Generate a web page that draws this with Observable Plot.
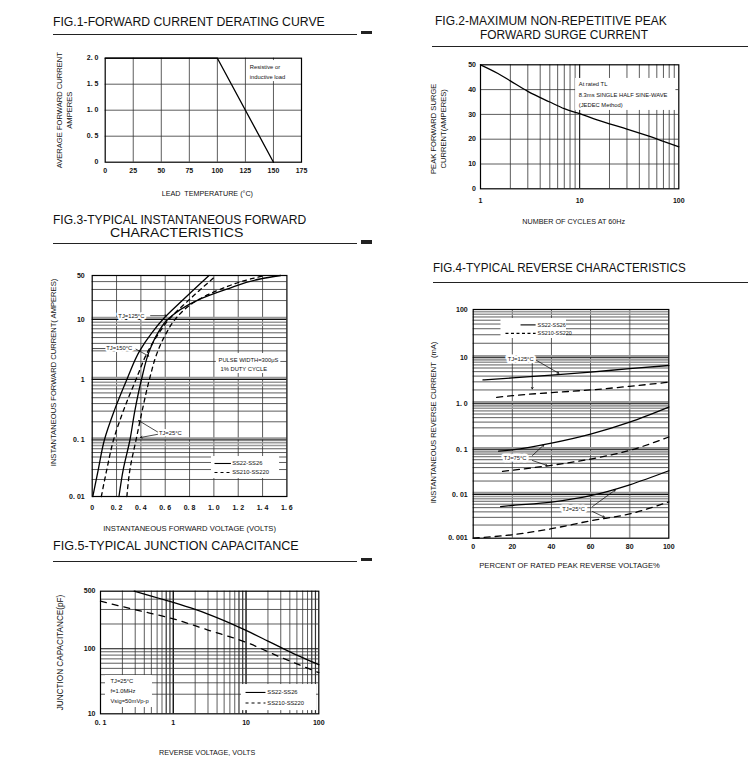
<!DOCTYPE html>
<html><head><meta charset="utf-8">
<script src="https://cdn.jsdelivr.net/npm/d3@7"></script>
<script src="https://cdn.jsdelivr.net/npm/@observablehq/plot@0.6"></script>
<style>
body{margin:0;background:#fff;}
#page{position:relative;width:750px;height:780px;overflow:hidden;background:#fff;font-family:"Liberation Sans",Arial,sans-serif;}
#page > svg{position:absolute;left:0;top:0;}
.title{position:absolute;font-size:12px;line-height:12px;white-space:nowrap;color:#111;transform-origin:0 50%;}
.rule{position:absolute;background:#222;}
</style>
</head><body><div id="page"></div>
<script>
// ---------- DATA ----------
// Fig.1 Forward current derating
const fig1Temp = [0, 100, 150];
const fig1Current = [2.0, 2.0, 0];
const fig1XTicks = [0, 25, 50, 75, 100, 125, 150, 175];
const fig1YTicks = [0, 0.5, 1.0, 1.5, 2.0];
const fig1YLabels = ["0", "0. 5", "1. 0", "1. 5", "2. 0"];

// Fig.2 Surge current
const fig2Cycles = [1, 1.5, 2, 3, 5, 7, 10, 15, 20, 30, 50, 70, 100];
const fig2Surge = [50, 46.5, 43.5, 39.3, 35, 32.3, 30.3, 27.8, 26.2, 24.1, 21.2, 19.1, 16.9];
const fig2XTicks = [1, 10, 100];
const fig2YTicks = [0, 10, 20, 30, 40, 50];

// Fig.3 Forward characteristics (V, A)
const fig3CurrentA = [0.01, 0.03, 0.1, 0.3, 1, 3, 6, 10, 20, 50];
const fig3SolidSteepV = [0.005, 0.05, 0.10, 0.18, 0.285, 0.39, 0.49, 0.58, 0.74, 0.96];
const fig3DashedSteepV = [0.075, 0.12, 0.175, 0.255, 0.36, 0.46, 0.55, 0.63, 0.79, 1.02];
const fig3CurrentB = [0.01, 0.03, 0.1, 0.3, 1, 3, 6, 10, 20, 30, 44, 50];
const fig3SolidFlatV = [0.22, 0.255, 0.31, 0.35, 0.405, 0.47, 0.54, 0.62, 0.86, 1.1, 1.38, 1.55];
const fig3DashedFlatV = [0.285, 0.31, 0.36, 0.41, 0.47, 0.54, 0.61, 0.68, 0.86, 1.05, 1.3, 1.42];
const fig3XTicks = [0, 0.2, 0.4, 0.6, 0.8, 1.0, 1.2, 1.4, 1.6];
const fig3XLabels = ["0", "0. 2", "0. 4", "0. 6", "0. 8", "1. 0", "1. 2", "1. 4", "1. 6"];
const fig3YTicks = [0.01, 0.1, 1, 10, 50];
const fig3YLabels = ["0. 01", "0. 1", "1", "10", "50"];

// Fig.4 Reverse characteristics (% , mA)
const fig4Solid125Pct = [5, 20, 40, 60, 80, 100];
const fig4Solid125 = [3.3, 3.65, 4.2, 4.9, 5.8, 6.8];
const fig4Dashed125Pct = [12, 20, 40, 60, 80, 100];
const fig4Dashed125 = [1.38, 1.5, 1.75, 2.0, 2.4, 2.95];
const fig4Solid75Pct = [13, 20, 40, 60, 80, 100];
const fig4Solid75 = [0.093, 0.1, 0.14, 0.22, 0.4, 0.85];
const fig4Dashed75Pct = [15, 40, 60, 80, 100];
const fig4Dashed75 = [0.033, 0.045, 0.062, 0.097, 0.19];
const fig4Solid25Pct = [14, 20, 40, 60, 80, 100];
const fig4Solid25 = [0.0053, 0.0056, 0.0067, 0.0094, 0.0165, 0.034];
const fig4Dashed25Pct = [0, 20, 40, 60, 80, 100];
const fig4Dashed25 = [0.001, 0.0012, 0.00165, 0.0025, 0.0036, 0.0068];
const fig4XTicks = [0, 20, 40, 60, 80, 100];
const fig4YTicks = [0.001, 0.01, 0.1, 1, 10, 100];
const fig4YLabels = ["0. 001", "0. 01", "0. 1", "1. 0", "10", "100"];

// Fig.5 Junction capacitance (V, pF)
const fig5SolidV = [0.29, 0.5, 1, 2, 3, 5, 10, 20, 30, 50, 100];
const fig5SolidC = [500, 437, 365, 300, 264, 220, 167, 124, 104, 80, 57];
const fig5DashedV = [0.1, 0.3, 1, 3, 10, 30, 100];
const fig5DashedC = [378, 298, 231, 169, 120, 74, 43];
const fig5XTicks = [0.1, 1, 10, 100];
const fig5XLabels = ["0. 1", "1", "10", "100"];
const fig5YTicks = [10, 100, 500];
const fig5YLabels = ["10", "100", "500"];

// ---------- HELPERS ----------
const W = 750, H = 780;
const page = document.getElementById("page");
const FONT = "Liberation Sans, Arial, sans-serif";
const zip = (xs, ys) => xs.map((x, i) => ({x, y: ys[i]}));

function addPlot(o) {
  const svg = Plot.plot({width: W, height: H, style: {background: "transparent", overflow: "visible"}, ...o,
    x: {...o.x, axis: null}, y: {...o.y, axis: null}});
  page.appendChild(svg);
}
function title(text, x, yc, w) {
  const d = document.createElement("div");
  d.className = "title"; d.textContent = text;
  d.style.left = x + "px"; d.style.top = (yc - 6) + "px";
  page.appendChild(d);
  const k = w / d.getBoundingClientRect().width;
  d.style.transform = `scaleX(${k})`;
}
function rule(x0, x1, y, h = 1.3) {
  const d = document.createElement("div");
  d.className = "rule";
  Object.assign(d.style, {left: x0 + "px", top: y + "px", width: (x1 - x0) + "px", height: h + "px"});
  page.appendChild(d);
}
// log gridline values split into styles
function logGrid(lo, hi) {
  const all = [];
  for (let e = Math.floor(Math.log10(lo)); e <= Math.ceil(Math.log10(hi)); e++)
    for (let m = 1; m <= 9; m++) { const v = +(m * 10 ** e).toPrecision(6); if (v > lo * 1.0001 && v < hi * 0.9999) all.push({v, m}); }
  return {
    dec: all.filter(d => d.m === 1).map(d => d.v),
    near: all.filter(d => d.m >= 8).map(d => d.v),
    other: all.filter(d => d.m > 1 && d.m < 8).map(d => d.v)
  };
}
const gridDark = {stroke: "#333", strokeWidth: 0.8};
const gridGray = {stroke: "#999", strokeWidth: 1.6};
const gridDec = {stroke: "#111", strokeWidth: 1.1};
const tickTxt = {fontSize: 7, fontWeight: "bold", fontFamily: FONT, fill: "#111", lineAnchor: "middle"};
const axTxt = {fontSize: 7.6, fontFamily: FONT, fill: "#111", lineAnchor: "middle", textAnchor: "middle"};
const noteTxt = {fontSize: 5.8, fontFamily: FONT, fill: "#111", textAnchor: "start", lineAnchor: "middle"};
const frame = Plot.frame({stroke: "#000", strokeWidth: 1.2});
const arrowStyle = {stroke: "#000", strokeWidth: 0.7, headLength: 4};
const lineW = 1.3;

// ---------- TITLES & RULES ----------
title("FIG.1-FORWARD CURRENT DERATING CURVE", 53.3, 21.7, 271.7);
rule(53, 357, 33.5); rule(361, 372, 30.7, 3.5);
title("FIG.2-MAXIMUM NON-REPETITIVE PEAK", 435, 20.7, 231.7);
title("FORWARD SURGE CURRENT", 480, 35, 168);
rule(432, 748, 46);
title("FIG.3-TYPICAL INSTANTANEOUS FORWARD", 53.3, 220, 253.3);
title("CHARACTERISTICS", 110, 233.3, 133.3);
rule(53, 357, 243); rule(361, 372, 240, 3.5);
title("FIG.4-TYPICAL REVERSE CHARACTERISTICS", 433.3, 268, 252.7);
rule(433, 748, 281.5);
title("FIG.5-TYPICAL JUNCTION CAPACITANCE", 53.3, 546, 245.7);
rule(53, 357, 560.5); rule(361, 372, 557.5, 3.5);

// ---------- FIG.1 ----------
addPlot({
  marginLeft: 104.7, marginRight: W - 301, marginTop: 57.7, marginBottom: H - 161.7,
  x: {domain: [0, 175]}, y: {domain: [0, 2]},
  marks: [
    Plot.ruleX(fig1XTicks.slice(1, -1), gridDark),
    Plot.ruleY(fig1YTicks.slice(1, -1), gridDark),
    Plot.rect([0], {x1: 126, x2: 172.6, y1: 1.55, y2: 1.955, fill: "white"}),
    Plot.text(["Resistive or"], {x: 128.9, y: 1.827, text: d => d, ...noteTxt}),
    Plot.text(["inductive load"], {x: 128.9, y: 1.635, text: d => d, ...noteTxt}),
    Plot.line(zip(fig1Temp, fig1Current), {x: "x", y: "y", stroke: "#000", strokeWidth: lineW}),
    frame,
    Plot.text(fig1XTicks, {x: d => d, frameAnchor: "bottom", dy: 9, text: d => String(d), ...tickTxt}),
    Plot.text(fig1YTicks, {y: d => d, frameAnchor: "left", dx: -6.7, text: (d, i) => fig1YLabels[i], ...tickTxt, textAnchor: "end"}),
    Plot.text(["LEAD  TEMPERATURE (°C)"], {frameAnchor: "bottom", dy: 31.3, dx: 4, text: d => d, ...axTxt, fontSize: 7.2}),
    Plot.text(["AVERAGE FORWARD CURRENT"], {frameAnchor: "left", rotate: -90, dx: -45.4, text: d => d, ...axTxt}),
    Plot.text(["AMPERES"], {frameAnchor: "left", rotate: -90, dx: -35.4, text: d => d, ...axTxt})
  ]
});

// ---------- FIG.2 ----------
const g2 = logGrid(1, 100);
addPlot({
  marginLeft: 480, marginRight: W - 678.3, marginTop: 64.3, marginBottom: H - 188.3,
  x: {type: "log", domain: [1, 100]}, y: {domain: [0, 50]},
  marks: [
    Plot.ruleX(g2.other, gridDark),
    Plot.ruleX(g2.near, gridDark),
    Plot.ruleX(g2.dec, gridDec),
    Plot.ruleY(fig2YTicks.slice(1, -1), gridDark),
    Plot.rect([0], {x1: 9.1, x2: 93.5, y1: 31.6, y2: 44.5, fill: "white"}),
    Plot.text(["At rated TL"], {x: 9.8, y: 42.1, text: d => d, ...noteTxt}),
    Plot.text(["8.3ms SINGLE HALF SINE-WAVE"], {x: 9.8, y: 37.9, text: d => d, ...noteTxt}),
    Plot.text(["(JEDEC Method)"], {x: 9.8, y: 33.9, text: d => d, ...noteTxt}),
    Plot.line(zip(fig2Cycles, fig2Surge), {x: "x", y: "y", stroke: "#000", strokeWidth: lineW, curve: "monotone-x"}),
    frame,
    Plot.text(fig2XTicks, {x: d => d, frameAnchor: "bottom", dy: 11.5, text: d => String(d), ...tickTxt}),
    Plot.text(fig2YTicks, {y: d => d, frameAnchor: "left", dx: -4.5, text: d => String(d), ...tickTxt, textAnchor: "end"}),
    Plot.text(["NUMBER OF CYCLES AT 60Hz"], {frameAnchor: "bottom", dy: 32.5, dx: -6, text: d => d, ...axTxt, fontSize: 7.2}),
    Plot.text(["PEAK FORWARD SURGE"], {frameAnchor: "left", rotate: -90, dx: -47, dy: 2, text: d => d, ...axTxt}),
    Plot.text(["CURRENT(AMPERES)"], {frameAnchor: "left", rotate: -90, dx: -37, dy: 2, text: d => d, ...axTxt})
  ]
});

// ---------- FIG.3 ----------
const g3 = logGrid(0.01, 50);
const dash3 = "4,4";
addPlot({
  marginLeft: 91.7, marginRight: W - 286.4, marginTop: 275, marginBottom: H - 496,
  x: {domain: [0, 1.6]},
  y: {type: "log", domain: [0.01, 0.1, 1, 10, 50], range: [496, 439.5, 379, 319, 275]},
  marks: [
    Plot.ruleX(fig3XTicks.slice(1, -1), gridDark),
    Plot.ruleY(g3.other, gridDark),
    Plot.ruleY(g3.near, gridGray),
    Plot.ruleY(g3.dec, {...gridGray, strokeWidth: 2.6, dy: -1.5}),
    Plot.ruleY(g3.dec, gridDec),
    Plot.rect([0], {x1: 1.02, x2: 1.55, y1: 1.26, y2: 2.71, fill: "white"}),
    Plot.rect([0], {x1: 0.98, x2: 1.54, y1: 0.0208, y2: 0.051, fill: "white"}),
    Plot.line(zip(fig3SolidSteepV, fig3CurrentA), {x: "x", y: "y", stroke: "#000", strokeWidth: lineW, curve: "monotone-y"}),
    Plot.line(zip(fig3DashedSteepV, fig3CurrentA), {x: "x", y: "y", stroke: "#000", strokeWidth: lineW, strokeDasharray: dash3, curve: "monotone-y"}),
    Plot.line(zip(fig3SolidFlatV, fig3CurrentB), {x: "x", y: "y", stroke: "#000", strokeWidth: lineW, curve: "monotone-y"}),
    Plot.line(zip(fig3DashedFlatV, fig3CurrentB), {x: "x", y: "y", stroke: "#000", strokeWidth: lineW, strokeDasharray: dash3, curve: "monotone-y"}),
    // annotations
    Plot.text(["TJ=125°C"], {x: 0.215, y: 11.5, text: d => d, ...noteTxt, stroke: "white", strokeWidth: 4}),
    Plot.arrow([0], {x1: 0.48, y1: 11.5, x2: 0.612, y2: 11.5, ...arrowStyle}),
    Plot.link([0], {x1: 0, y1: 3.28, x2: 0.11, y2: 3.28, stroke: "#000", strokeWidth: 0.7}),
    Plot.text(["TJ=150°C"], {x: 0.115, y: 3.28, text: d => d, ...noteTxt, stroke: "white", strokeWidth: 4}),
    Plot.arrow([0], {x1: 0.36, y1: 3.2, x2: 0.465, y2: 2.45, ...arrowStyle}),
    Plot.text(["PULSE WIDTH=300μS"], {x: 1.038, y: 2.07, text: d => d, ...noteTxt}),
    Plot.text(["1% DUTY CYCLE"], {x: 1.054, y: 1.51, text: d => d, ...noteTxt}),
    Plot.text(["TJ=25°C"], {x: 0.548, y: 0.128, text: d => d, ...noteTxt, stroke: "white", strokeWidth: 4}),
    Plot.arrow([0], {x1: 0.537, y1: 0.136, x2: 0.381, y2: 0.21, ...arrowStyle}),
    Plot.arrow([0], {x1: 0.537, y1: 0.124, x2: 0.397, y2: 0.11, ...arrowStyle}),
    Plot.link([0], {x1: 1.005, y1: 0.0384, x2: 1.14, y2: 0.0384, stroke: "#000", strokeWidth: 1.1}),
    Plot.link([0], {x1: 1.005, y1: 0.0266, x2: 1.14, y2: 0.0266, stroke: "#000", strokeWidth: 1.1, strokeDasharray: "3,3"}),
    Plot.text(["SS22-SS26"], {x: 1.15, y: 0.0384, text: d => d, ...noteTxt}),
    Plot.text(["SS210-SS220"], {x: 1.15, y: 0.0266, text: d => d, ...noteTxt}),
    frame,
    Plot.text(fig3XTicks, {x: d => d, frameAnchor: "bottom", dy: 11, text: (d, i) => fig3XLabels[i], ...tickTxt}),
    Plot.text(fig3YTicks, {y: d => d, frameAnchor: "left", dx: -7.5, text: (d, i) => fig3YLabels[i], ...tickTxt, textAnchor: "end"}),
    Plot.text(["INSTANTANEOUS FORWARD VOLTAGE (VOLTS)"], {frameAnchor: "bottom", dy: 32, text: d => d, ...axTxt}),
    Plot.text(["INSTANTANEOUS FORWARD CURRENT( AMPERES)"], {frameAnchor: "left", rotate: -90, dx: -38.4, dy: -13.5, text: d => d, ...axTxt})
  ]
});

// ---------- FIG.4 ----------
const g4 = logGrid(0.001, 100);
const dash4 = "6,5";
addPlot({
  marginLeft: 472.7, marginRight: W - 668.3, marginTop: 309, marginBottom: H - 537.7,
  x: {domain: [0, 100]},
  y: {type: "log", domain: [0.001, 0.01, 0.1, 1, 10, 100], range: [537.7, 494, 449.3, 403.3, 357.3, 309]},
  marks: [
    Plot.ruleX([20, 40, 60], gridDark),
    Plot.ruleX([80], gridGray),
    Plot.ruleY(g4.other, gridDark),
    Plot.ruleY(g4.near, gridGray),
    Plot.ruleY(g4.dec, {...gridGray, strokeWidth: 2.6, dy: -1.5}),
    Plot.ruleY(g4.dec, gridDec),
    Plot.rect([0], {x1: 14.2, x2: 47.7, y1: 25.1, y2: 65.3, fill: "white"}),
    Plot.link([0], {x1: 24.2, y1: 48, x2: 31.9, y2: 48, stroke: "#000", strokeWidth: 1.1}),
    Plot.link([0], {x1: 16.5, y1: 32, x2: 31.9, y2: 32, stroke: "#000", strokeWidth: 1.1, strokeDasharray: "3,2.5"}),
    Plot.text(["SS22-SS26"], {x: 32.9, y: 48, text: d => d, ...noteTxt, fontSize: 5.4}),
    Plot.text(["SS210-SS220"], {x: 32.9, y: 32, text: d => d, ...noteTxt, fontSize: 5.4}),
    Plot.line(zip(fig4Solid125Pct, fig4Solid125), {x: "x", y: "y", stroke: "#000", strokeWidth: lineW, curve: "monotone-x"}),
    Plot.line(zip(fig4Dashed125Pct, fig4Dashed125), {x: "x", y: "y", stroke: "#000", strokeWidth: lineW, strokeDasharray: dash4, curve: "monotone-x"}),
    Plot.line(zip(fig4Solid75Pct, fig4Solid75), {x: "x", y: "y", stroke: "#000", strokeWidth: lineW, curve: "monotone-x"}),
    Plot.line(zip(fig4Dashed75Pct, fig4Dashed75), {x: "x", y: "y", stroke: "#000", strokeWidth: lineW, strokeDasharray: dash4, curve: "monotone-x"}),
    Plot.line(zip(fig4Solid25Pct, fig4Solid25), {x: "x", y: "y", stroke: "#000", strokeWidth: lineW, curve: "monotone-x"}),
    Plot.line(zip(fig4Dashed25Pct, fig4Dashed25), {x: "x", y: "y", stroke: "#000", strokeWidth: lineW, strokeDasharray: dash4, curve: "monotone-x"}),
    // annotations
    Plot.text(["TJ=125°C"], {x: 17.6, y: 9.4, text: d => d, ...noteTxt, stroke: "white", strokeWidth: 5}),
    Plot.arrow([0], {x1: 32.4, y1: 8.75, x2: 43.8, y2: 4.6, ...arrowStyle}),
    Plot.arrow([0], {x1: 30.2, y1: 7.5, x2: 30.2, y2: 2.1, ...arrowStyle}),
    Plot.text(["TJ=75°C"], {x: 15.6, y: 0.0656, text: d => d, ...noteTxt, stroke: "white", strokeWidth: 5}),
    Plot.arrow([0], {x1: 30.3, y1: 0.0745, x2: 36.1, y2: 0.128, ...arrowStyle}),
    Plot.arrow([0], {x1: 30.3, y1: 0.0575, x2: 37.8, y2: 0.0446, ...arrowStyle}),
    Plot.text(["TJ=25°C"], {x: 45.5, y: 0.00466, text: d => d, ...noteTxt, stroke: "white", strokeWidth: 5}),
    Plot.arrow([0], {x1: 61, y1: 0.00531, x2: 72.7, y2: 0.0127, ...arrowStyle}),
    Plot.arrow([0], {x1: 61, y1: 0.00408, x2: 67.1, y2: 0.00302, ...arrowStyle}),
    frame,
    Plot.text(fig4XTicks, {x: d => d, frameAnchor: "bottom", dy: 9, text: d => String(d), ...tickTxt}),
    Plot.text(fig4YTicks, {y: d => d, frameAnchor: "left", dx: -5.5, text: (d, i) => fig4YLabels[i], ...tickTxt, textAnchor: "end"}),
    Plot.text(["PERCENT OF RATED PEAK REVERSE VOLTAGE%"], {frameAnchor: "bottom", dy: 27.5, dx: -1.5, text: d => d, ...axTxt}),
    Plot.text(["INSTANTANEOUS REVERSE CURRENT  (mA)"], {frameAnchor: "left", rotate: -90, dx: -39.7, dy: -1.4, text: d => d, ...axTxt})
  ]
});

// ---------- FIG.5 ----------
const g5x = logGrid(0.1, 100);
const g5y = logGrid(10, 500);
const dash5 = "6,6";
addPlot({
  marginLeft: 100, marginRight: W - 318.3, marginTop: 590.7, marginBottom: H - 713.3,
  x: {type: "log", domain: [0.1, 100]},
  y: {type: "log", domain: [10, 100, 500], range: [713.3, 648.3, 590.7]},
  marks: [
    Plot.ruleX(g5x.other, gridDark),
    Plot.ruleX(g5x.near, {...gridDark, strokeWidth: 1.2}),
    Plot.ruleX(g5x.dec, {...gridDec, strokeWidth: 1.4}),
    Plot.ruleY(g5y.other, gridDark),
    Plot.ruleY(g5y.near, gridDark),
    Plot.ruleY(g5y.dec, gridDec),
    Plot.rect([0], {x1: 0.117, x2: 0.518, y1: 12.5, y2: 38.8, fill: "white"}),
    Plot.text(["TJ=25°C"], {x: 0.137, y: 31.4, text: d => d, ...noteTxt}),
    Plot.text(["f=1.0MHz"], {x: 0.137, y: 22.0, text: d => d, ...noteTxt}),
    Plot.text(["Vsig=50mVp-p"], {x: 0.137, y: 15.5, text: d => d, ...noteTxt}),
    Plot.rect([0], {x1: 8.66, x2: 93, y1: 11.2, y2: 28.2, fill: "white"}),
    Plot.link([0], {x1: 9.84, y1: 21.3, x2: 18.5, y2: 21.3, stroke: "#000", strokeWidth: 1.1}),
    Plot.link([0], {x1: 9.84, y1: 14.65, x2: 18.5, y2: 14.65, stroke: "#000", strokeWidth: 1.1, strokeDasharray: "3,3"}),
    Plot.text(["SS22-SS26"], {x: 19.6, y: 21.3, text: d => d, ...noteTxt}),
    Plot.text(["SS210-SS220"], {x: 19.6, y: 14.65, text: d => d, ...noteTxt}),
    Plot.line(zip(fig5SolidV, fig5SolidC), {x: "x", y: "y", stroke: "#000", strokeWidth: lineW, curve: "monotone-x"}),
    Plot.line(zip(fig5DashedV, fig5DashedC), {x: "x", y: "y", stroke: "#000", strokeWidth: lineW, strokeDasharray: dash5, curve: "monotone-x"}),
    frame,
    Plot.text(fig5XTicks, {x: d => d, frameAnchor: "bottom", dy: 9, text: (d, i) => fig5XLabels[i], ...tickTxt}),
    Plot.text(fig5YTicks, {y: d => d, frameAnchor: "left", dx: -5, text: (d, i) => fig5YLabels[i], ...tickTxt, textAnchor: "end"}),
    Plot.text(["REVERSE VOLTAGE, VOLTS"], {frameAnchor: "bottom", dy: 38.5, dx: -2.5, text: d => d, ...axTxt, fontSize: 7.2}),
    Plot.text(["JUNCTION CAPACITANCE(pF)"], {frameAnchor: "left", rotate: -90, dx: -40, text: d => d, ...axTxt, fontSize: 8.2})
  ]
});
</script></body></html>
